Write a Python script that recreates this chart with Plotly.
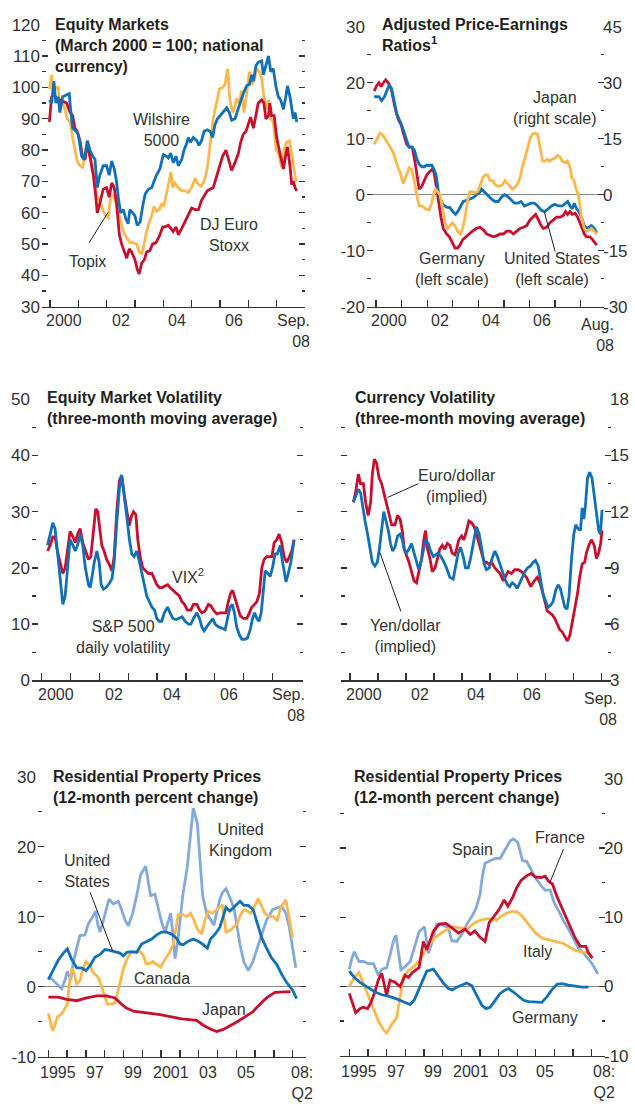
import plotly.graph_objects as go

# ---------------- DATA ----------------
# Panel 1: Equity markets (March 2000 = 100)
eq_wil_x = [1999.98,2000.06,2000.14,2000.21,2000.29,2000.35,2000.45,2000.59,2000.68,2000.73,
            2000.80,2000.92,2001.00,2001.12,2001.21,2001.32,2001.41,2001.51,2001.59,2001.67,
            2001.76,2001.88,2002.00,2002.09,2002.18,2002.27,2002.35,2002.41,2002.49,2002.59,
            2002.68,2002.76,2002.82,2002.92,2003.00,2003.08,2003.18,2003.27,2003.36,2003.47,
            2003.59,2003.67,2003.76,2003.88,2004.00,2004.12,2004.18,2004.26,2004.35,2004.45,
            2004.53,2004.65,2004.73,2004.82,2004.88,2004.96,2005.06,2005.18,2005.26,2005.35,
            2005.44,2005.55,2005.65,2005.74,2005.82,2005.91,2006.00,2006.12,2006.24,2006.33,
            2006.41,2006.53,2006.61,2006.71,2006.82,2006.94,2007.04,2007.12,2007.18,2007.27,
            2007.35,2007.47,2007.53,2007.62,2007.71,2007.79,2007.88,2007.98,2008.06,2008.14,
            2008.24,2008.33,2008.38,2008.47,2008.53,2008.59,2008.65,2008.71]
eq_wilshire = [96,95,102,95,97,92,97,97.5,98,93,
               87,86,85,78,77,83,80,78,77,68,
               72,75,75,72,76.5,74,70,65,60,61,
               58,56.5,61,60,59,56,57,62,66,67.5,
               68,70,72,74,78.5,78,77.5,79,76,78,
               75,77,80,82,84,82.5,84,83,81.5,83,
               86,86.5,86,84,88,90,91,92,93.5,92,
               89.5,90,92,95,98,100.5,101,104,102,107,
               108,108.5,104,107,110,105,106,100,97,96,
               93,97.5,100.5,97,93,90,92,89]

eq_dj_x = [1999.98,2000.06,2000.14,2000.24,2000.35,2000.47,2000.59,2000.71,2000.80,2000.88,
           2000.96,2001.06,2001.15,2001.24,2001.32,2001.41,2001.53,2001.61,2001.67,2001.76,
           2001.88,2002.00,2002.09,2002.18,2002.27,2002.35,2002.45,2002.53,2002.61,2002.71,
           2002.80,2002.88,2003.00,2003.08,2003.15,2003.24,2003.33,2003.41,2003.53,2003.62,
           2003.74,2003.86,2003.98,2004.06,2004.18,2004.26,2004.35,2004.45,2004.53,2004.65,
           2004.76,2004.88,2005.00,2005.12,2005.24,2005.35,2005.47,2005.55,2005.65,2005.76,
           2005.86,2005.98,2006.09,2006.21,2006.29,2006.41,2006.53,2006.65,2006.73,2006.82,
           2006.92,2007.00,2007.08,2007.18,2007.27,2007.35,2007.47,2007.55,2007.62,2007.71,
           2007.76,2007.82,2007.91,2008.00,2008.09,2008.18,2008.24,2008.33,2008.38,2008.47,
           2008.53,2008.59,2008.65,2008.71]
eq_djstoxx = [89,97,98,96,96,95.5,95,92,91,87,
              86,83,78,77,82,78,72,66,60,63,
              67.5,68,65,69.5,68,63,53,50,48,45.5,
              48.5,47.5,45,42,40.5,44,45,47.5,48,50,
              50.5,52.5,55.5,55.5,56,55,54,55.5,53,55,
              57,59,61.5,61,61,64,66,67,67.5,68,
              71,75,78,80,77,73.5,76,79,82.5,85,
              86,88,90.5,87,91,95,96,95,90,91,
              95,91,91,84,80,76,74,79,81,75,
              69,70,68,67]

eq_topix_x = [1999.98,2000.06,2000.12,2000.21,2000.29,2000.35,2000.45,2000.53,2000.61,2000.71,
              2000.80,2000.88,2000.96,2001.06,2001.15,2001.24,2001.32,2001.41,2001.51,2001.59,
              2001.67,2001.76,2001.88,2001.98,2002.06,2002.14,2002.24,2002.33,2002.41,2002.49,
              2002.59,2002.71,2002.82,2002.94,2003.06,2003.15,2003.24,2003.32,2003.41,2003.51,
              2003.59,2003.67,2003.76,2003.86,2003.94,2004.02,2004.12,2004.21,2004.27,2004.33,
              2004.41,2004.53,2004.65,2004.76,2004.88,2005.00,2005.12,2005.24,2005.33,2005.44,
              2005.55,2005.67,2005.76,2005.88,2005.98,2006.09,2006.18,2006.27,2006.35,2006.45,
              2006.53,2006.59,2006.68,2006.76,2006.85,2006.94,2007.04,2007.12,2007.20,2007.29,
              2007.39,2007.47,2007.55,2007.65,2007.71,2007.79,2007.88,2007.98,2008.06,2008.18,
              2008.26,2008.35,2008.45,2008.53,2008.61,2008.68]
eq_topix = [99.5,104,98,100,100,95,95,93,90,89,
            84,80,76.5,75,74.5,78,83,78,75,69,
            65,64,60.5,59,58.5,65,65.5,63,60,57,
            54,52,50.5,50.5,50,47.5,47,50,54,57,
            59,62,60.5,61,63,62,66,70,73,68,
            69.5,68,67,67,66.5,68,71,69,68.5,70,
            74,83,90,95,99.5,100,101,106,96,92,
            94,96.5,95,99,92,98,105,101,102,106,
            105,103,97,93,96,90,89,80,79,74.5,
            80,82.5,83,79,74,70]

# Panel 2: Adjusted price-earnings ratios
pe_de_x = [1999.93,2000.03,2000.12,2000.20,2000.29,2000.38,2000.48,2000.59,2000.68,2000.77,
           2000.87,2000.98,2001.07,2001.20,2001.30,2001.42,2001.52,2001.62,2001.69,2001.79,
           2001.88,2001.98,2002.07,2002.18,2002.27,2002.35,2002.44,2002.54,2002.63,2002.76,
           2002.87,2002.98,2003.09,2003.19,2003.28,2003.39,2003.50,2003.64,2003.77,2003.93,
           2004.07,2004.20,2004.33,2004.46,2004.59,2004.72,2004.85,2004.98,2005.11,2005.24,
           2005.37,2005.50,2005.63,2005.76,2005.89,2006.02,2006.15,2006.24,2006.35,2006.45,
           2006.54,2006.67,2006.80,2006.93,2007.06,2007.19,2007.32,2007.41,2007.49,2007.58,
           2007.67,2007.78,2007.88,2007.97,2008.07,2008.14,2008.23,2008.36,2008.46,2008.53,
           2008.63]
pe_germany = [18.5,19.5,20,19.3,20,20.5,20,19,17,15,
              13.5,12.5,11,9,8.5,8.5,6,3,1,1.5,
              2.5,3.5,4,4.5,4,2,-1,-4,-6,-7,
              -7.5,-8.5,-9.5,-9.5,-9,-8,-7.5,-7,-6.5,-6,
              -5.8,-6.3,-7,-7.3,-7.5,-7.3,-7,-7,-6.5,-6.5,
              -7,-6.5,-6,-5.8,-5.5,-4.5,-4,-3.5,-4.5,-5.5,
              -6,-5.8,-5,-4.5,-4,-4,-3.7,-3,-3.5,-3,
              -3.5,-3.3,-4,-5,-6,-7,-7.5,-7.5,-8,-8.5,
              -9]

pe_us_x = [1999.93,2000.03,2000.12,2000.22,2000.33,2000.42,2000.51,2000.61,2000.70,2000.81,
           2000.90,2001.00,2001.11,2001.20,2001.29,2001.39,2001.50,2001.59,2001.68,2001.79,
           2001.89,2001.98,2002.07,2002.18,2002.27,2002.35,2002.44,2002.54,2002.63,2002.76,
           2002.89,2003.00,2003.11,2003.22,2003.32,2003.41,2003.54,2003.67,2003.80,2003.93,
           2004.07,2004.13,2004.23,2004.33,2004.42,2004.52,2004.65,2004.78,2004.89,2005.02,
           2005.15,2005.28,2005.41,2005.54,2005.67,2005.80,2005.93,2006.06,2006.19,2006.32,
           2006.47,2006.60,2006.73,2006.86,2006.99,2007.13,2007.28,2007.41,2007.49,2007.58,
           2007.67,2007.75,2007.84,2007.93,2008.03,2008.14,2008.23,2008.32,2008.42,2008.53,
           2008.63]
pe_us = [17.5,17.5,17.5,16.8,17.5,18.5,19.5,19,17,14.5,
         13.5,12.5,11,9.5,8.5,8.5,8,6.5,5.5,5,
         5,5.3,5.2,5.3,4.5,3.5,0.5,-1,-1.8,-2.2,
         -2.3,-3,-3.5,-2.8,-2,-1.2,-1,-0.8,-0.5,0,
         0.5,1,0.5,0,-0.3,-0.8,-1.2,-1.2,-0.5,0,
         -0.3,-1,-1.5,-1.5,-1.2,-2,-1.7,-1.5,-1.5,-2,
         -2.8,-3,-2.5,-2,-1.7,-2,-2,-1.5,-1.2,-2,
         -2.5,-1.5,-2.5,-3,-4,-5.5,-6,-5.8,-5.5,-6,
         -6.8]

pe_jp_x = [1999.93,2000.03,2000.16,2000.29,2000.42,2000.55,2000.68,2000.81,2000.94,2001.07,
           2001.20,2001.30,2001.39,2001.50,2001.59,2001.69,2001.81,2001.94,2002.07,2002.18,
           2002.27,2002.33,2002.41,2002.50,2002.59,2002.70,2002.80,2002.89,2002.98,2003.09,
           2003.19,2003.30,2003.39,2003.48,2003.58,2003.67,2003.76,2003.87,2003.97,2004.06,
           2004.17,2004.26,2004.36,2004.46,2004.56,2004.65,2004.76,2004.85,2004.94,2005.04,
           2005.15,2005.24,2005.33,2005.43,2005.54,2005.63,2005.72,2005.82,2005.93,2006.02,
           2006.11,2006.21,2006.32,2006.38,2006.45,2006.51,2006.60,2006.70,2006.80,2006.89,
           2007.00,2007.09,2007.19,2007.28,2007.39,2007.48,2007.58,2007.65,2007.74,2007.82,
           2007.91,2007.97,2008.03,2008.14,2008.23,2008.32,2008.42,2008.53,2008.63]
pe_japan = [13.5,15,16.5,15.8,14.3,12.8,11.3,8.3,6,3,
            5.3,7.2,6.8,3.8,0,-3,-3,-3.8,-4.1,-2.3,
            0.8,1.5,0.8,0,-3,-7.5,-9,-8.3,-7.5,-8.3,
            -9.8,-10.5,-9,-6,-1.5,0.8,0.8,0.5,0.8,2.3,
            4.5,5.3,5.3,3.8,3.8,2.7,2.3,2.3,2.7,3.8,
            3,2.3,1.5,2,3,4.5,7.5,9.8,12.8,15,
            16.2,16.5,16.2,13.5,10.5,9,9,9.5,9,9.5,
            9.8,10.5,10.2,9,8.6,9,7.5,4.5,3.8,1.5,
            0,-3,-6,-9,-9.8,-9.5,-9,-9.8,-10.5]

# Panel 3: Equity market volatility
ev_vix_x = [2000.20,2000.29,2000.38,2000.46,2000.54,2000.64,2000.73,2000.81,2000.89,2000.98,
            2001.08,2001.16,2001.24,2001.33,2001.42,2001.51,2001.62,2001.70,2001.79,2001.87,
            2001.94,2002.00,2002.08,2002.16,2002.25,2002.35,2002.43,2002.51,2002.60,2002.69,
            2002.77,2002.86,2002.95,2003.03,2003.10,2003.18,2003.26,2003.33,2003.41,2003.50,
            2003.60,2003.70,2003.82,2003.90,2003.99,2004.08,2004.18,2004.28,2004.37,2004.45,
            2004.54,2004.66,2004.77,2004.86,2004.95,2005.05,2005.17,2005.26,2005.38,2005.47,
            2005.55,2005.66,2005.78,2005.86,2005.95,2006.07,2006.18,2006.30,2006.39,2006.47,
            2006.55,2006.62,2006.71,2006.79,2006.88,2006.99,2007.11,2007.20,2007.28,2007.38,
            2007.46,2007.55,2007.63,2007.71,2007.80,2007.90,2007.98,2008.06,2008.15,2008.23,
            2008.32,2008.40,2008.50,2008.59,2008.67,2008.75]
ev_vix = [23,24,25.5,25.5,23,21,19,20,23,26.5,
          25.5,24.5,26,27,24.5,23,21.5,22,27,30.5,
          30,27,24,23,21.5,20.5,19.5,22,30,35.5,
          36.5,33,30,27.5,29,30,29.5,25,22,20,
          19.5,19,19,18,17,16.5,16.5,16.8,17,16.5,
          16,15.5,15,14,13.5,12.5,12.5,13.5,13.5,12.5,
          12,12.3,13.5,13.3,12.5,11.8,12,12,12,14,
          15.5,16,14.5,13,11.5,11,11,12,13,13.5,
          14,15.5,20,21.5,22,22,22,24.5,25,26,
          24.5,22,21,22,23,25]

ev_sp_x = [2000.20,2000.29,2000.38,2000.46,2000.54,2000.64,2000.73,2000.81,2000.89,2000.98,
           2001.08,2001.16,2001.24,2001.33,2001.42,2001.51,2001.62,2001.68,2001.73,2001.82,
           2001.91,2001.99,2002.06,2002.14,2002.23,2002.31,2002.43,2002.51,2002.60,2002.69,
           2002.77,2002.86,2002.95,2003.04,2003.12,2003.20,2003.29,2003.39,2003.47,2003.56,
           2003.64,2003.73,2003.82,2003.91,2003.99,2004.08,2004.16,2004.25,2004.36,2004.45,
           2004.54,2004.66,2004.77,2004.87,2004.97,2005.09,2005.17,2005.26,2005.38,2005.47,
           2005.55,2005.63,2005.72,2005.84,2005.93,2006.01,2006.13,2006.24,2006.36,2006.44,
           2006.53,2006.61,2006.68,2006.76,2006.86,2006.94,2007.05,2007.13,2007.23,2007.31,
           2007.38,2007.46,2007.54,2007.61,2007.69,2007.75,2007.84,2007.92,2008.00,2008.09,
           2008.17,2008.27,2008.32,2008.40,2008.47,2008.55,2008.64,2008.75]
ev_sp500 = [24,26,28,27,23,17,13.5,15,20,25,
            24,23,24,26,24,20,17,16.5,18,21,
            23,21,17,16.2,16.5,17,18,21,28,34,
            36.5,33,29,25,22.5,22,23,21,19,17,
            15,14,13,12.5,11,10.5,10.5,12,13,12,
            11,10.8,11,11.3,10.5,10,10,11,12,11,
            9.5,8.8,9.5,10.5,11,10,9.5,9.3,9,11,
            13,13.5,12,9.5,8,7.3,7.3,7.5,9,11,
            12,11,10.5,12,17,19.5,19,18.5,20,22.5,
            22.5,24,22,19.5,17.5,19,21,25]

# Panel 4: Currency volatility
cv_eur_x = [2000.12,2000.20,2000.30,2000.38,2000.48,2000.56,2000.65,2000.74,2000.80,2000.87,
            2000.95,2001.04,2001.13,2001.21,2001.31,2001.39,2001.49,2001.61,2001.70,2001.79,
            2001.87,2001.94,2002.02,2002.11,2002.20,2002.29,2002.38,2002.46,2002.56,2002.64,
            2002.70,2002.77,2002.86,2002.94,2003.04,2003.13,2003.21,2003.30,2003.39,2003.48,
            2003.57,2003.65,2003.75,2003.81,2003.89,2003.99,2004.07,2004.17,2004.25,2004.35,
            2004.44,2004.52,2004.61,2004.70,2004.80,2004.88,2004.96,2005.06,2005.18,2005.36,
            2005.48,2005.65,2005.77,2005.89,2006.01,2006.13,2006.31,2006.46,2006.58,2006.70,
            2006.79,2006.87,2006.96,2007.05,2007.14,2007.23,2007.32,2007.42,2007.50,2007.58,
            2007.68,2007.77,2007.86,2007.94,2008.04,2008.13,2008.21,2008.30,2008.39,2008.45,
            2008.54,2008.63,2008.73,2008.81,2008.89,2008.96,2009.01]
cv_eurodollar = [12.5,13,14,13.5,13.5,12.5,11.8,12.5,14,14.8,
                 14.6,13.8,13.5,13,12.5,12,11.3,11.3,11.8,11.6,
                 11,10,9.7,9.3,8.8,8.3,8.2,8.8,9.5,10.5,
                 11,10,9.5,8.8,9,9.5,10,10.2,10,10.3,
                 10.2,9.8,9.7,10,10.5,10.7,10.5,11,11.5,11.4,
                 11.2,10.8,10.3,9.8,9.3,9.3,9.2,9.3,9,8.7,
                 8.3,8.8,8.7,8.9,8.9,8.8,8.5,8,8.3,8.5,
                 8.2,7.8,7.2,6.7,6.6,6.5,6.3,6,5.7,5.6,
                 5.3,5.1,5.4,6,6.8,7.6,8.5,9.2,9.3,9.8,
                 10.2,10.5,10.2,9.5,9.8,10.3,11]

cv_yen_x = [2000.12,2000.20,2000.30,2000.38,2000.45,2000.54,2000.63,2000.71,2000.80,2000.89,
            2000.98,2001.05,2001.13,2001.21,2001.29,2001.37,2001.45,2001.52,2001.61,2001.70,
            2001.79,2001.87,2001.94,2002.02,2002.11,2002.20,2002.29,2002.38,2002.46,2002.54,
            2002.62,2002.70,2002.80,2002.88,2002.98,2003.06,2003.15,2003.25,2003.33,2003.45,
            2003.57,2003.69,2003.77,2003.87,2003.95,2004.05,2004.13,2004.23,2004.31,2004.40,
            2004.52,2004.62,2004.70,2004.80,2004.88,2004.98,2005.08,2005.18,2005.27,2005.36,
            2005.44,2005.54,2005.63,2005.71,2005.80,2005.89,2005.98,2006.07,2006.15,2006.25,
            2006.35,2006.45,2006.55,2006.63,2006.73,2006.82,2006.90,2007.00,2007.08,2007.17,
            2007.26,2007.35,2007.44,2007.52,2007.60,2007.68,2007.76,2007.83,2007.92,2008.00,
            2008.07,2008.15,2008.24,2008.30,2008.36,2008.42,2008.49,2008.57,2008.65,2008.73,
            2008.81,2008.89,2008.95,2009.01]
cv_yendollar = [12.5,12.8,13.2,13,12.3,11.5,10.8,10,9.3,9.1,
                9.3,10,11,12,11.5,11,10.3,9.9,10.1,10.7,
                10.8,10.5,10,9.8,10,10.3,9.8,9.3,8.9,9.3,
                10,10.5,10.3,9.9,9.6,9.7,9.8,9.6,9.4,9,
                8.5,8.4,9,9.8,10.1,9.6,9,9,9.5,10.2,
                11.2,10.8,10,9.2,8.9,9,9.5,9.9,9.6,9.2,
                8.8,8.4,8.1,8,8.2,8.1,7.9,8.2,8.5,8.8,
                9,9.1,9.3,9.4,9.1,8.4,7.6,7.2,6.9,7,
                7.2,7.8,8.1,7.9,7.3,6.9,6.8,7.5,9.5,10.8,
                11.3,11.1,11,12.2,11.6,12.4,13.8,14.1,13.8,12.8,
                11.8,11,10.8,12.1]

# Panel 5: Residential property prices (UK, US, Canada, Japan)
rp_uk_x = [1995.00,1995.23,1995.48,1995.71,1995.89,1996.01,1996.19,1996.33,1996.51,1996.68,
           1996.95,1997.13,1997.36,1997.52,1997.62,1997.75,1997.93,1998.10,1998.23,1998.46,
           1998.72,1998.90,1999.08,1999.26,1999.49,1999.70,1999.91,2000.18,2000.32,2000.44,
           2000.67,2000.85,2001.03,2001.21,2001.38,2001.51,2001.61,2001.74,2001.91,2002.15,
           2002.39,2002.57,2002.71,2002.93,2003.07,2003.21,2003.42,2003.63,2003.81,2003.95,
           2004.13,2004.27,2004.45,2004.70,2004.89,2005.05,2005.20,2005.41,2005.64,2005.87,
           2006.08,2006.35,2006.61,2006.93,2007.18,2007.41,2007.64,2007.82,2008.00,2008.17]
rp_uk = [1.5,1,0.3,-0.3,1,2.2,1,3.5,5.5,7.3,
         7.4,9,10,10.8,9,7.8,9.5,11,12.5,11.8,
         12.2,11,9.5,8.7,10.5,13,16,17.2,15,13,
         13.2,11,9.2,7.8,9.5,10.5,8,4,7,13,
         17,22,25.5,23.3,18,13,10.5,9.5,8.8,10.5,
         12.5,13.5,14,12.5,11,8.5,6,3.5,2.3,3.5,
         5.3,7.5,9.5,11,11.3,11.5,10.5,8.5,5.5,2.7]

rp_ca_x = [1995.00,1995.12,1995.23,1995.35,1995.48,1995.71,1995.89,1996.01,1996.12,1996.24,
           1996.33,1996.51,1996.68,1996.83,1997.00,1997.22,1997.39,1997.66,1997.84,1998.01,
           1998.14,1998.37,1998.55,1998.67,1998.85,1999.02,1999.20,1999.38,1999.61,1999.88,
           2000.05,2000.20,2000.37,2000.55,2000.76,2000.98,2001.12,2001.29,2001.47,2001.65,
           2001.77,2001.91,2002.15,2002.36,2002.57,2002.75,2002.93,2003.16,2003.33,2003.51,
           2003.74,2003.95,2004.13,2004.27,2004.45,2004.66,2004.84,2005.05,2005.23,2005.41,
           2005.59,2005.76,2005.94,2006.17,2006.35,2006.52,2006.76,2006.97,2007.18,2007.36,
           2007.64,2007.82,2008.00]
rp_canada = [-3.8,-5,-6.3,-5.5,-4.3,-3.9,-3,-2.5,0.5,2.5,
             2.3,0.4,0.8,2.5,3.6,3,2,1.3,0,-1.5,
             -2.5,-2.5,-2.3,-1,1,2.8,4,4.8,5,5,
             4.5,3.3,3.3,3.6,3.2,2.8,3.5,4.2,5,6,
             8,10.3,10.3,10,10.5,9.5,8.2,7.5,9.5,10.8,
             10.5,11,11.3,11.7,7.8,8,8.5,9,10.3,11,
             10.8,10.5,11.3,12.6,11.5,10.5,10,10,9.5,11.3,
             12.4,9.5,7]

rp_us_x = [1995.00,1995.27,1995.53,1995.80,1996.01,1996.24,1996.51,1996.77,1997.00,1997.22,
           1997.48,1997.75,1998.01,1998.28,1998.55,1998.81,1998.99,1999.17,1999.43,1999.70,
           1999.96,2000.23,2000.50,2000.76,2001.03,2001.29,2001.56,2001.83,2002.00,2002.18,
           2002.45,2002.71,2002.98,2003.24,2003.46,2003.63,2003.87,2004.13,2004.31,2004.45,
           2004.66,2004.84,2005.05,2005.20,2005.41,2005.64,2005.90,2006.12,2006.35,2006.61,
           2006.88,2007.15,2007.41,2007.68,2008.00,2008.21]
rp_us = [1,2.5,3.8,4.8,5.4,3.9,2.7,2.7,2.3,3,
         4.2,4.6,5.3,5.2,5,4.8,4.4,4.9,5,4.9,
         6.1,6.4,6.8,7.4,7.8,7.8,7.5,6.9,6.1,6,
         6.5,6.8,6.5,6,5.5,6.8,7.5,8.5,10,11.3,
         10.8,11.3,11.8,12.2,11.6,11.6,11,9,7,5.5,
         4.1,3.2,1.8,0.6,-0.5,-1.7]

rp_jp_x = [1995.00,1995.53,1995.98,1996.51,1997.04,1997.57,1998.10,1998.55,1998.81,1999.13,
           1999.52,2000.23,2000.94,2001.56,2002.09,2002.89,2003.24,2003.60,2003.95,2004.31,
           2004.66,2005.05,2005.46,2005.87,2006.26,2006.61,2007.06,2007.50,2007.89]
rp_japan = [-1.5,-1.5,-1.8,-2,-1.6,-1.3,-1.3,-1.6,-2.3,-3,
            -3.5,-3.7,-4,-4.3,-4.6,-4.8,-5.5,-6,-6.4,-6.1,
            -5.6,-5,-4.3,-3.6,-2.5,-1.6,-0.8,-0.7,-0.7]

# Panel 6: Residential property prices (Spain, France, Italy, Germany)
rp_es_x = [1995.00,1995.13,1995.27,1995.39,1995.52,1995.75,1996.02,1996.29,1996.47,1996.56,
           1996.74,1997.00,1997.18,1997.36,1997.50,1997.63,1997.77,1997.98,1998.26,1998.49,
           1998.74,1999.03,1999.24,1999.45,1999.69,2000.04,2000.31,2000.49,2000.76,2001.03,
           2001.30,2001.57,2001.80,2002.01,2002.14,2002.28,2002.55,2002.82,2003.09,2003.27,
           2003.45,2003.62,2003.80,2004.03,2004.16,2004.28,2004.52,2004.75,2005.00,2005.29,
           2005.50,2005.77,2006.00,2006.25,2006.48,2006.75,2007.02,2007.29,2007.56,2007.83,
           2008.04,2008.33]
rp_spain = [2.5,4,5,4.2,3.6,3.6,3.3,3.3,2.2,1.6,
            2.5,2.7,4.5,6.5,7.4,5,2.4,2.8,3.6,5.6,
            7.9,8.6,4.8,6.5,9,8.8,8.5,6.6,6.5,7.5,
            9,10.1,11.3,13.3,16,17.8,18.2,18.5,18.5,19.3,
            20.2,21,21.3,20.8,19.5,18.2,18,16.8,15.6,14.5,
            13.9,13.9,12,10.8,9.5,8.3,6.8,5.5,4.8,3.8,
            3.2,1.8]

rp_fr_x = [1995.00,1995.16,1995.34,1995.57,1995.75,1995.98,1996.16,1996.38,1996.56,1996.74,
           1996.88,1997.00,1997.18,1997.45,1997.72,1997.99,1998.17,1998.38,1998.74,1998.97,
           1999.15,1999.28,1999.51,1999.81,2000.17,2000.49,2000.85,2001.21,2001.48,2001.74,
           2002.01,2002.28,2002.50,2002.78,2003.03,2003.30,2003.50,2003.75,2003.98,2004.21,
           2004.52,2004.75,2004.96,2005.29,2005.50,2005.68,2005.89,2006.13,2006.40,2006.66,
           2006.90,2007.11,2007.38,2007.68,2007.83,2008.04]
rp_france = [-1,-2.5,-3.8,-3.2,-3,-3.2,-2.3,-0.7,1,1.9,
             0.3,-1.3,0.9,0.6,0,1.6,1.3,2,2.7,6.5,
             5.3,6.3,8,9,9.1,8.5,7.7,8.3,7.5,8,
             7.1,6.5,9.2,10.2,11.1,12.5,11.6,12.8,14.3,15.3,
             16,16.3,15.8,15.7,15.9,15.2,14.8,13,11.3,9.8,
             8.3,7,5.8,5.8,4.8,4.1]

rp_it_x = [1995.00,1995.27,1995.52,1995.75,1996.02,1996.29,1996.56,1996.82,1997.00,1997.27,
           1997.54,1997.72,1997.90,1998.17,1998.52,1998.88,1999.24,1999.60,1999.96,2000.31,
           2000.67,2001.03,2001.39,2001.74,2002.07,2002.46,2002.91,2003.18,2003.44,2003.71,
           2003.98,2004.25,2004.61,2004.96,2005.32,2005.68,2006.04,2006.48,2006.75,2007.11,
           2007.47,2007.74,2008.01]
rp_italy = [0,1.3,2,0.5,-1.5,-3.2,-5,-6.2,-6.7,-5.5,
            -4.5,-1.5,1.5,2.3,3,4.2,6,7,7.8,8.3,
            8.6,8.4,8.5,9.2,9.6,9.8,9.6,10.2,10.6,10.8,
            10.8,10.2,9,7.8,7,6.7,6.5,6.2,5.8,5.2,
            5,4.9,4.5]

rp_de_x = [1995.00,1995.27,1995.57,1995.84,1996.11,1996.38,1996.74,1997.09,1997.54,1997.90,
           1998.26,1998.49,1998.70,1998.92,1999.15,1999.51,1999.78,2000.04,2000.31,2000.53,
           2000.76,2001.03,2001.30,2001.57,2001.83,2002.10,2002.32,2002.55,2002.82,2003.09,
           2003.36,2003.53,2003.80,2004.07,2004.34,2004.61,2004.96,2005.32,2005.59,2005.86,
           2006.13,2006.40,2006.75,2007.11,2007.47,2007.83]
rp_germany = [2.2,1.3,0.6,0.1,-0.4,-0.8,-1.2,-1.4,-1.8,-2.2,
              -2.6,-1.9,-0.6,1,2.2,2.5,1.5,0.5,-0.3,-0.5,
              -0.1,0.2,0.5,0.1,-1.3,-2.7,-3.2,-3,-2,-1,
              -0.5,-0.3,-0.8,-1.4,-2,-2.2,-2.3,-2.3,-1.5,-0.5,
              0.3,0.4,0.2,0,-0.1,-0.1]

# Tick labels
yrs_2000 = [2000.5, 2002.5, 2004.5, 2006.5]
lbl_2000 = ["2000", "02", "04", "06"]
yrs_1995 = [1995.5, 1997.5, 1999.5, 2001.5, 2003.5, 2005.5]
lbl_1995 = ["1995", "97", "99", "2001", "03", "05"]
y1_ticks = [30, 40, 50, 60, 70, 80, 90, 100, 110, 120]
y1_text = ["30", "40", "50", "60", "70", "80", "90", "100", "110", "120"]
y2_ticks = [-20, -10, 0, 10, 20, 30]
y2_text = ["-20", "-10", "0", "10", "20", "30"]
y2r_ticks = [-30, -15, 0, 15, 30, 45]
y2r_text = ["-30", "-15", "0", "15", "30", "45"]
y3_ticks = [0, 10, 20, 30, 40, 50]
y3_text = ["0", "10", "20", "30", "40", "50"]
y4_ticks = [3, 6, 9, 12, 15, 18]
y4_text = ["3", "6", "9", "12", "15", "18"]
y5_ticks = [-10, 0, 10, 20, 30]
y5_text = ["-10", "0", "10", "20", "30"]

# ---------------- STYLE ----------------
W, H = 635, 1109
FONT = "Liberation Sans, Arial, Helvetica, sans-serif"
TXT = "#333333"
RED = "#C8102E"
BLUE = "#1170B8"
ORANGE = "#FDB84D"
LBLUE = "#82AADA"
LW = 2.8


def dx(a, b):
    return [a / W, b / W]


def dy(top, bottom):
    return [1 - bottom / H, 1 - top / H]


def py(p):
    return 1 - p / H


def px(p):
    return p / W


fig = go.Figure()


def line(x, y, color, xa, ya):
    fig.add_trace(go.Scatter(x=x, y=y, mode="lines", xaxis=xa, yaxis=ya,
                             line=dict(color=color, width=LW), hoverinfo="skip",
                             showlegend=False))


line(eq_topix_x, eq_topix, ORANGE, "x", "y")
line(eq_dj_x, eq_djstoxx, RED, "x", "y")
line(eq_wil_x, eq_wilshire, BLUE, "x", "y")

line(pe_jp_x, pe_japan, ORANGE, "x2", "y7")
line(pe_de_x, pe_germany, RED, "x2", "y2")
line(pe_us_x, pe_us, BLUE, "x2", "y2")

line(ev_vix_x, ev_vix, RED, "x3", "y3")
line(ev_sp_x, ev_sp500, BLUE, "x3", "y3")

line(cv_eur_x, cv_eurodollar, RED, "x4", "y4")
line(cv_yen_x, cv_yendollar, BLUE, "x4", "y4")

line(rp_uk_x, rp_uk, LBLUE, "x5", "y5")
line(rp_ca_x, rp_canada, ORANGE, "x5", "y5")
line(rp_jp_x, rp_japan, RED, "x5", "y5")
line(rp_us_x, rp_us, BLUE, "x5", "y5")

line(rp_es_x, rp_spain, LBLUE, "x6", "y6")
line(rp_it_x, rp_italy, ORANGE, "x6", "y6")
line(rp_fr_x, rp_france, RED, "x6", "y6")
line(rp_de_x, rp_germany, BLUE, "x6", "y6")

tickfont = dict(family=FONT, size=17, color=TXT)


def xaxis(dom, rng, ticks, anchor):
    return dict(domain=dom, range=rng, anchor=anchor, showgrid=False, zeroline=False,
                showline=True, linecolor=TXT, linewidth=1.5,
                tickmode="array", tickvals=ticks, ticks="inside", ticklen=7,
                tickwidth=1.3, tickcolor=TXT, showticklabels=False, fixedrange=True)


def yaxis(dom, rng, tvals, ttext, anchor, side="left", mirror="ticks", labels=True,
          zero=False):
    minor_vals = [(a + b) / 2 for a, b in zip(tvals[:-1], tvals[1:])]
    return dict(domain=dom, range=rng, anchor=anchor, side=side, showgrid=False,
                zeroline=zero, zerolinecolor="#8a8a8a", zerolinewidth=1,
                showline=False, mirror=mirror, tickmode="array", tickvals=tvals,
                ticktext=ttext, ticks="inside", ticklen=6, tickwidth=1.3, tickcolor=TXT,
                showticklabels=labels, tickfont=tickfont,
                ticklabelstandoff=1 if side == "left" else -2,
                minor=dict(ticks="inside", ticklen=3.5, tickwidth=1.3, tickcolor=TXT,
                           tickmode="array", tickvals=minor_vals, showgrid=False),
                fixedrange=True)


y2000 = [2000, 2001, 2002, 2003, 2004, 2005, 2006, 2007, 2008]
y2000b = [2000, 2001, 2002, 2003, 2004, 2005, 2006, 2007, 2008, 2009]
y1995 = list(range(1995, 2009))

fig.update_layout(
    width=W, height=H, margin=dict(l=0, r=0, t=0, b=0),
    paper_bgcolor="white", plot_bgcolor="white", showlegend=False,
    font=dict(family=FONT, size=16, color=TXT),
    xaxis=xaxis(dx(42, 305), [1999.72, 2009.0], y2000, "y"),
    yaxis=yaxis(dy(16, 303), [30, 120], y1_ticks, y1_text, "x"),
    xaxis2=xaxis(dx(367, 604), [1999.65, 2008.91], y2000, "y2"),
    yaxis2=yaxis(dy(18, 303), [-20, 30], y2_ticks, y2_text, "x2", mirror=False, zero=True),
    yaxis7=dict(yaxis(dy(18, 303), [-30, 45], y2r_ticks, y2r_text, "x2", side="right",
                      mirror=False), overlaying="y2"),
    xaxis3=xaxis(dx(32, 303), [1999.66, 2009.06], y2000, "y3"),
    yaxis3=yaxis(dy(397, 683), [0, 50], y3_ticks, y3_text, "x3"),
    xaxis4=xaxis(dx(341, 611), [1999.68, 2009.33], y2000b, "y4"),
    yaxis4=yaxis(dy(397, 683), [3, 18], y4_ticks, y4_text, "x4", side="right"),
    xaxis5=xaxis(dx(38, 306), [1994.45, 2008.71], y1995, "y5"),
    yaxis5=yaxis(dy(781, 1066), [-10, 30], y5_ticks, y5_text, "x5", zero=True),
    xaxis6=xaxis(dx(340, 605), [1994.50, 2008.71], y1995, "y6"),
    yaxis6=yaxis(dy(783, 1065), [-10, 30], y5_ticks, y5_text, "x6", side="right", zero=True),
)

ann = []


def note(text, x, y, xref, yref, xanchor="center", yanchor="middle", align="center",
         size=16, color=TXT):
    ann.append(dict(text=text, x=x, y=y, xref=xref, yref=yref, xanchor=xanchor,
                    yanchor=yanchor, align=align, showarrow=False,
                    font=dict(family=FONT, size=size, color=color)))


def xlabels(xref, vals, texts, top_px, end_text, end_px, end_anchor, end_drop=0):
    for v, t in zip(vals, texts):
        note(t, v, py(top_px), xref, "paper", yanchor="top", size=16)
    note(end_text, px(end_px), py(top_px + end_drop), "paper", "paper", xanchor=end_anchor,
         yanchor="top", align="right" if end_anchor == "right" else "center", size=16)


xlabels("x", yrs_2000, lbl_2000, 306, "Sep.<br>08", 312, "right")
xlabels("x2", yrs_2000, lbl_2000, 306, "Aug.<br>08", 616, "right", end_drop=4)
xlabels("x3", yrs_2000, lbl_2000, 687, "Sep.<br>08", 307, "right")
xlabels("x4", yrs_2000, lbl_2000, 687, "Sep.<br>08", 619, "right", end_drop=4)
xlabels("x5", yrs_1995, lbl_1995, 1071, "08:<br>Q2", 302, "center")
xlabels("x6", yrs_1995, lbl_1995, 1070, "08:<br>Q2", 604, "center")

TC = "#231F20"
note("<b>Equity Markets<br>(March 2000 = 100; national<br>currency)</b>", px(53), py(5),
     "paper", "paper", xanchor="left", yanchor="top", align="left", color=TC)
note("<b>Adjusted Price-Earnings<br>Ratios<sup>1</sup></b>", px(380), py(5),
     "paper", "paper", xanchor="left", yanchor="top", align="left", color=TC)
note("<b>Equity Market Volatility<br>(three-month moving average)</b>", px(45), py(385),
     "paper", "paper", xanchor="left", yanchor="top", align="left", color=TC)
note("<b>Currency Volatility<br>(three-month moving average)</b>", px(353), py(385),
     "paper", "paper", xanchor="left", yanchor="top", align="left", color=TC)
note("<b>Residential Property Prices<br>(12-month percent change)</b>", px(51), py(770),
     "paper", "paper", xanchor="left", yanchor="top", align="left", color=TC)
note("<b>Residential Property Prices<br>(12-month percent change)</b>", px(352), py(770),
     "paper", "paper", xanchor="left", yanchor="top", align="left", color=TC)

note("Wilshire<br>5000", 2003.95, 86.4, "x", "y")
note("Topix", 2001.34, 44.4, "x", "y")
note("DJ Euro<br>Stoxx", 2006.32, 53.0, "x", "y")
note("Japan<br>(right scale)", 2007.0, 15.5, "x2", "y2")
note("Germany<br>(left scale)", 2002.97, -13.25, "x2", "y2")
note("United States<br>(left scale)", 2006.88, -13.3, "x2", "y2")
note("VIX<sup>2</sup>", 2005.07, 18.5, "x3", "y3")
note("S&P 500<br>daily volatility", 2002.82, 7.7, "x3", "y3")
note("Euro/dollar<br>(implied)", 2003.83, 13.36, "x4", "y4")
note("Yen/dollar<br>(implied)", 2002.0, 5.39, "x4", "y4")
note("United<br>Kingdom", 2005.2, 21.0, "x5", "y5")
note("United<br>States", 1997.06, 16.5, "x5", "y5")
note("Canada", 2001.05, 1.1, "x5", "y5")
note("Japan", 2004.34, -3.26, "x5", "y5")
note("Spain", 2001.58, 19.8, "x6", "y6")
note("France", 2006.30, 21.5, "x6", "y6")
note("Italy", 2005.11, 5.04, "x6", "y6")
note("Germany", 2005.49, -4.47, "x6", "y6")

fig.update_layout(annotations=ann)

leaders = [
    ("x", "y", 2001.38, 50.4, 2002.05, 60.1),
    ("x2", "y2", 2007.0, -10.1, 2006.58, -3.1),
    ("x4", "y4", 2002.44, 13.49, 2001.35, 12.76),
    ("x4", "y4", 2001.82, 6.67, 2001.07, 9.82),
    ("x5", "y5", 1997.22, 13.5, 1998.42, 5.1),
    ("x6", "y6", 2006.48, 19.8, 2005.77, 15.1),
]
for xr, yr, x0, y0, x1, y1 in leaders:
    fig.add_shape(type="line", xref=xr, yref=yr, x0=x0, y0=y0, x1=x1, y1=y1,
                  line=dict(color="#222222", width=1))

fig.write_html("out.html", config={"displayModeBar": False, "staticPlot": True},
               post_script="document.body.style.margin='0';document.body.style.padding='0';"
                           "document.documentElement.style.overflow='hidden';")
